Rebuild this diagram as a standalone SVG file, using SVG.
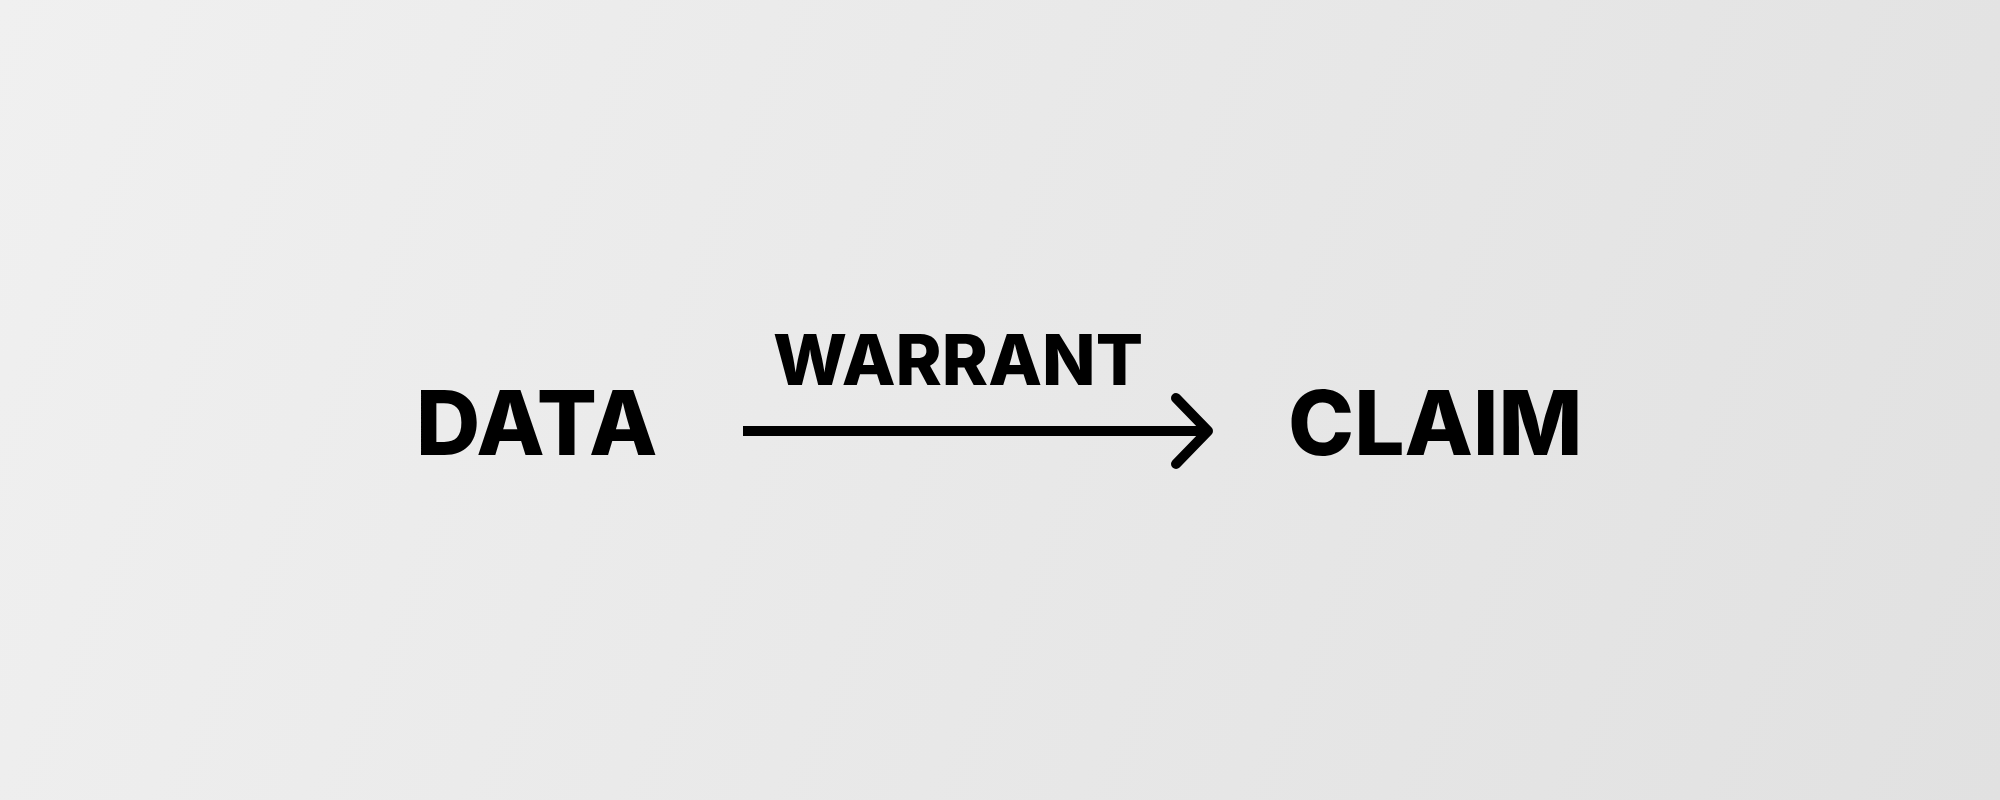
<svg xmlns="http://www.w3.org/2000/svg" width="2000" height="800" viewBox="0 0 2000 800">
<defs>
<linearGradient id="bg" gradientUnits="userSpaceOnUse" x1="0" y1="0" x2="2000" y2="800">
<stop offset="0" stop-color="#f0f0f0"/>
<stop offset="1" stop-color="#e1e1e1"/>
</linearGradient>
</defs>
<style>
.lbl{font-family:Inter,Roboto,"Liberation Sans",sans-serif;font-weight:800;fill:#000}
.big{font-size:89px}
.mid{font-size:70px}
.conn{stroke:#000;stroke-width:10;fill:none}
.head{stroke:#000;stroke-width:10;fill:none;stroke-linecap:round;stroke-linejoin:round}
</style>
<rect x="0" y="0" width="2000" height="800" fill="url(#bg)"/>
<g id="data"><text class="lbl big" x="416" y="455">DATA</text></g>
<g id="claim"><text class="lbl big" x="1288" y="455">CLAIM</text></g>
<g id="connectors">
<line class="conn" x1="743" y1="431" x2="1205" y2="431"/>
<polyline class="head" points="1176,398 1208,431 1176,464"/>
<text id="warrant" class="lbl mid" x="773" y="385">WARRANT</text>
</g>
</svg>
